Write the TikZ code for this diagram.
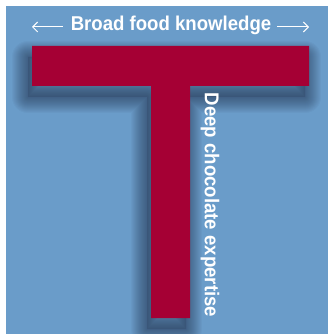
\documentclass[tikz,border=0pt]{standalone}
\usepackage{fontspec}
\setmainfont{Liberation Sans}[FakeStretch=0.93]
\usetikzlibrary{arrows.meta}
\definecolor{panelblue}{RGB}{106,156,201}
\definecolor{tred}{RGB}{165,0,52}
\definecolor{shadowc}{RGB}{30,45,70}

\begin{document}
\begin{tikzpicture}[x=1pt, y=-1pt,
	label/.style={text=white, font=\bfseries\fontsize{20}{22}\selectfont, inner sep=0pt},
	span/.style={white, line width=1pt, -{Straight Barb[length=5pt,width=10pt,line width=1pt]}}]
		\def\tshape{(32, 46) -- (309, 46) -- (309, 86) -- (190, 86) -- (190, 318) -- (151, 318) -- (151, 86) -- (32, 86) -- cycle}
		\useasboundingbox (0, 0) rectangle (328, 334);
		\fill[panelblue] (6, 6) rectangle (328, 334);

		% soft shadow under the T
		\begin{scope}[shift={(-4, 11)}]
			\foreach \w in {2, 4, ..., 32}
				\draw[shadowc, opacity=0.04, line width=\w pt, line join=round] \tshape;
			\fill[shadowc, opacity=0.2] \tshape;
		\end{scope}

		% the T
		\fill[tred] \tshape;

		\node[label] (broad) at (171, 25) {Broad food knowledge};
		\node[label, rotate=-90] (deep) at (210, 205) {Deep chocolate expertise};

		\coordinate (leftend) at (32, 27);
		\coordinate (rightend) at (309, 27);
		\draw[span] ([xshift=-8pt]broad.west |- leftend) -- (leftend);
		\draw[span] ([xshift=6pt]broad.east |- rightend) -- (rightend);
\end{tikzpicture}
\end{document}
